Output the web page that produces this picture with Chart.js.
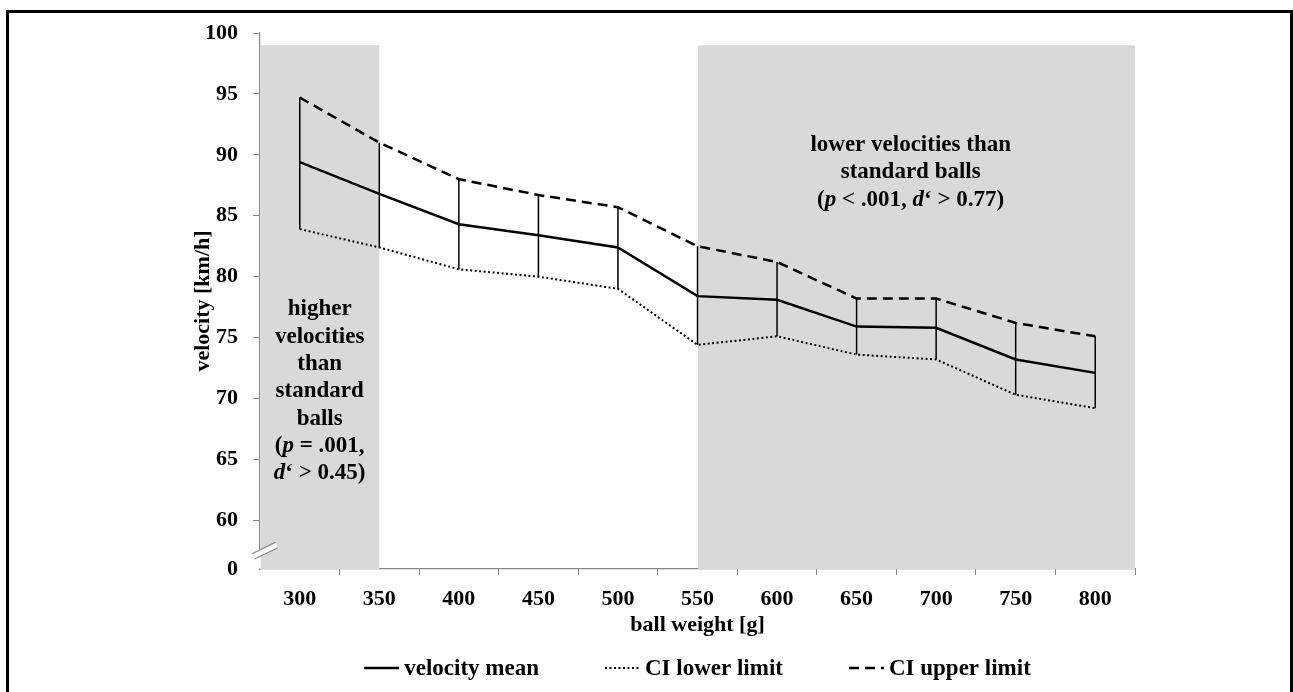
<!DOCTYPE html>
<html>
<head>
<meta charset="utf-8">
<script src="https://cdn.jsdelivr.net/npm/chart.js@4.4.0/dist/chart.umd.min.js"></script>
<style>
  html, body { margin: 0; padding: 0; background: #fff; overflow: hidden; }
  #frame { position: absolute; left: 6px; top: 10px; width: 1287px; height: 700px; border: 3px solid #000; box-sizing: border-box; }
  #chart { position: absolute; left: 0; top: 0; }
</style>
</head>
<body>
<div id="frame"></div>
<canvas id="chart" width="1293" height="692"></canvas>
<script>
const weights = ['300', '350', '400', '450', '500', '550', '600', '650', '700', '750', '800'];
const velocityMean = [89.4, 86.8, 84.3, 83.4, 82.4, 78.4, 78.1, 75.9, 75.8, 73.2, 72.1];
const ciLower = [83.9, 82.4, 80.6, 80.0, 79.0, 74.4, 75.1, 73.6, 73.2, 70.3, 69.2];
const ciUpper = [94.7, 91.0, 88.0, 86.7, 85.7, 82.5, 81.2, 78.2, 78.2, 76.2, 75.1];

// broken axis: the bottom tick stands for 0
const yTickValues = [56, 60, 65, 70, 75, 80, 85, 90, 95, 100];
const yTickLabels = ['0', '60', '65', '70', '75', '80', '85', '90', '95', '100'];

// shaded ranges in category index units (-0.5 = left edge of the axis)
const shadeSpans = [[-0.5, 1], [5, 10.5]];
const shadeTop = 99;

const serif = "'Liberation Serif', 'Times New Roman', serif";
const axisGray = '#868686';

const notes = [
  { xIndex: 0.25, yValue: 77.3, lines: [
    [['higher']], [['velocities']], [['than']], [['standard']], [['balls']],
    [['('], ['p', true], [' = .001,']],
    [['d', true], ['\u2018 > 0.45)']]
  ]},
  { xIndex: 7.68, yValue: 90.8, lines: [
    [['lower velocities than']], [['standard balls']],
    [['('], ['p', true], [' < .001, '], ['d', true], ['\u2018 > 0.77)']]
  ]}
];

function drawRich(ctx, parts, cx, cy, size) {
  const fonts = parts.map(p => (p[1] ? 'italic ' : '') + 'bold ' + size + 'px ' + serif);
  let total = 0;
  const widths = parts.map((p, i) => { ctx.font = fonts[i]; const w = ctx.measureText(p[0]).width; total += w; return w; });
  let x = cx - total / 2;
  parts.forEach((p, i) => { ctx.font = fonts[i]; ctx.fillText(p[0], x, cy); x += widths[i]; });
}

const decorPlugin = {
  id: 'decor',
  beforeDatasetsDraw(chart) {
    const {ctx, scales: {x, y}} = chart;
    ctx.save();
    ctx.fillStyle = '#d9d9d9';
    shadeSpans.forEach(([a, b]) => {
      const x0 = x.getPixelForValue(a), x1 = x.getPixelForValue(b);
      const top = y.getPixelForValue(shadeTop);
      ctx.fillRect(x0 + 0.5, top, x1 - x0 - 0.5, y.bottom - top);
    });
    // error bars lower -> upper
    ctx.strokeStyle = '#000';
    ctx.lineWidth = 1.5;
    weights.forEach((w, i) => {
      const px = x.getPixelForValue(i);
      ctx.beginPath();
      ctx.moveTo(px, y.getPixelForValue(ciLower[i]));
      ctx.lineTo(px, y.getPixelForValue(ciUpper[i]));
      ctx.stroke();
    });
    ctx.restore();
  },
  afterDraw(chart) {
    const {ctx, chartArea, scales: {x, y}} = chart;
    ctx.save();
    // annotations
    ctx.fillStyle = '#000';
    ctx.textAlign = 'left';
    ctx.textBaseline = 'middle';
    notes.forEach(n => {
      const cx = x.getPixelForValue(n.xIndex);
      const cy = y.getPixelForValue(n.yValue);
      n.lines.forEach((parts, k) => drawRich(ctx, parts, cx, cy + k * 27.3, 23));
    });

    // axis break
    const by = y.getPixelForValue(57.5);
    ctx.fillStyle = '#fff';
    ctx.fillRect(x.left - 2, by, 2.5, y.bottom - by - 0.5);
    ctx.translate(x.left + 5, by);
    ctx.rotate(-0.45);
    ctx.fillRect(-13, -3, 26, 6);
    ctx.strokeStyle = axisGray;
    ctx.lineWidth = 1.2;
    ctx.beginPath();
    ctx.moveTo(-13, -3); ctx.lineTo(13, -3);
    ctx.moveTo(-13, 3); ctx.lineTo(13, 3);
    ctx.stroke();
    ctx.restore();

    // legend
    ctx.save();
    ctx.font = 'bold 23px ' + serif;
    ctx.textBaseline = 'middle';
    ctx.fillStyle = '#000';
    const sample = 35, gapText = 5, gapItem = 66;
    const items = chart.data.datasets.map(ds => ({ds, w: sample + gapText + ctx.measureText(ds.label).width}));
    const total = items.reduce((s, it) => s + it.w, 0) + gapItem * (items.length - 1);
    let lx = (chartArea.left + chartArea.right) / 2 - total / 2;
    const ly = chartArea.bottom + 99;
    items.forEach(it => {
      ctx.strokeStyle = '#000';
      ctx.lineWidth = it.ds.borderWidth;
      ctx.setLineDash(it.ds.borderDash || []);
      ctx.beginPath();
      ctx.moveTo(lx, ly);
      ctx.lineTo(lx + sample, ly);
      ctx.stroke();
      ctx.setLineDash([]);
      ctx.fillText(it.ds.label, lx + sample + gapText, ly + 1);
      lx += it.w + gapItem;
    });
    ctx.restore();
  }
};

new Chart(document.getElementById('chart'), {
  type: 'line',
  data: {
    labels: weights,
    datasets: [
      { label: 'velocity mean', data: velocityMean, borderColor: '#000', borderWidth: 2.5, pointRadius: 0, tension: 0 },
      { label: 'CI lower limit', data: ciLower, borderColor: '#000', borderWidth: 2, borderDash: [2, 2.5], pointRadius: 0, tension: 0 },
      { label: 'CI upper limit', data: ciUpper, borderColor: '#000', borderWidth: 2.5, borderDash: [10, 6], pointRadius: 0, tension: 0 }
    ]
  },
  options: {
    responsive: false,
    animation: false,
    layout: { padding: { top: 33, right: 158, bottom: 44, left: 0 } },
    plugins: {
      legend: { display: false },
      tooltip: { enabled: false }
    },
    scales: {
      x: {
        offset: true,
        grid: { offset: true, drawOnChartArea: false, tickLength: 6, color: ctx => (ctx.index === 0 ? 'rgba(0,0,0,0)' : axisGray) },
        border: { color: axisGray, width: 1.2 },
        ticks: { color: '#000', padding: 11, font: { family: serif, size: 22, weight: 'bold' } },
        title: { display: true, text: 'ball weight [g]', color: '#000', padding: { top: 0, bottom: 9 }, font: { family: serif, size: 22, weight: 'bold' } },
        afterFit(scale) { scale.height = 79; }
      },
      y: {
        min: 56,
        max: 100,
        afterBuildTicks(scale) { scale.ticks = yTickValues.map(v => ({ value: v })); },
        grid: { drawOnChartArea: false, tickLength: 7, color: ctx => (ctx.tick && ctx.tick.value === 56 ? 'rgba(0,0,0,0)' : axisGray) },
        border: { color: axisGray, width: 1.2 },
        ticks: {
          color: '#000', padding: 15,
          font: { family: serif, size: 22, weight: 'bold' },
          callback: v => yTickLabels[yTickValues.indexOf(v)]
        },
        title: { display: true, text: 'velocity [km/h]', color: '#000', padding: { top: 190, bottom: 0 }, font: { family: serif, size: 22, weight: 'bold' } },
        afterFit(scale) { scale.width = 260; }
      }
    }
  },
  plugins: [decorPlugin]
});
</script>
</body>
</html>
